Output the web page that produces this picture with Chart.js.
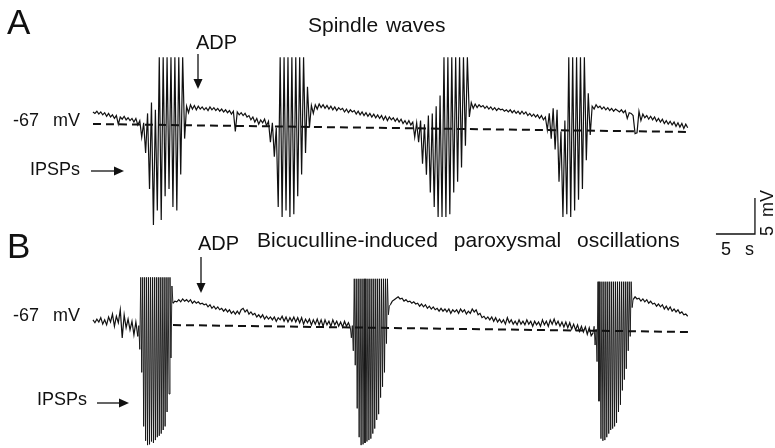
<!DOCTYPE html>
<html>
<head>
<meta charset="utf-8">
<script src="https://cdn.jsdelivr.net/npm/chart.js@4.4.1/dist/chart.umd.min.js"></script>
<style>
  html, body { margin: 0; padding: 0; background: #fff; }
  #wrap { position: relative; width: 775px; height: 448px; overflow: hidden;
          font-family: "Liberation Sans", Arial, sans-serif; color: #111; }
  #wrap canvas { position: absolute; left: 0; top: 0; }
  .lbl { position: absolute; white-space: pre; line-height: 1; }
</style>
</head>
<body>
<div id="wrap">
  <canvas id="trace" width="775" height="448"></canvas>
  <div class="lbl" style="left:7px;top:4px;font-size:35px">A</div>
  <div class="lbl" style="left:308px;top:14px;font-size:21px;word-spacing:2px">Spindle waves</div>
  <div class="lbl" style="left:196px;top:32px;font-size:20px">ADP</div>
  <div class="lbl" style="left:13px;top:111px;font-size:18px;word-spacing:9px">-67 mV</div>
  <div class="lbl" style="left:30px;top:160px;font-size:18px">IPSPs</div>
  <div class="lbl" style="left:7px;top:228px;font-size:35px">B</div>
  <div class="lbl" style="left:198px;top:233px;font-size:20px">ADP</div>
  <div class="lbl" style="left:257px;top:229px;font-size:21px;word-spacing:10px">Bicuculline-induced paroxysmal oscillations</div>
  <div class="lbl" style="left:13px;top:306px;font-size:18px;word-spacing:9px">-67 mV</div>
  <div class="lbl" style="left:37px;top:390px;font-size:18px">IPSPs</div>
  <div class="lbl" style="left:721px;top:240px;font-size:18px;word-spacing:9px">5 s</div>
  <div class="lbl" style="left:744px;top:204px;font-size:18px;word-spacing:4px;transform:rotate(-90deg);transform-origin:center">5 mV</div>
</div>
<script>
const DT = 0.25;
const DT_FAST = 0.125;

// A: spindle waves, membrane potential in mV
const restA0 = [-66.3,-66.5,-66.2,-66.6,-66.3,-66.7,-66.4,-66.9,-66.5,-67.0,-66.7,-67.2,-66.8,-68.0,-67.0,-67.3,-66.9,-67.4,-67.1,-67.5,
  -67.2,-67.7,-67.2,-68.1,-67.5];
const burstA1 = [-69.8,-67.8,-72.0,-66.5,-77.0,-65.0,-82.0,-66.0,-80.0,-58.7,-81.3,-58.7,-78.0,-58.7,-77.0,
  -58.7,-79.5,-58.7,-80.0,-58.7,-75.0,-58.7,-70.0];
const restA1 = [-65.5,-66.4,-65.3,-65.9,-65.4,-66.0,-65.5,-65.9,-65.6,-66.0,-65.7,-66.1,
  -65.6,-66.0,-65.7,-66.1,-65.8,-66.2,-65.9,-66.3,-66.0,-66.4,-66.1,-66.6,-66.2,-69.0,-66.3,-66.7,-66.4,-66.8,-66.5,-67.0,
  -66.8,-67.4,-67.0,-67.7,-67.2,-68.0,-67.4,-67.8,-67.3,-68.2,-67.6];
const burstA2 = [-70.5,-67.8,-72.5,-68.5,-79.5,-58.7,-80.9,-58.7,-80.0,
  -58.7,-80.9,-58.7,-80.5,-58.7,-78.0,-58.7,-75.0,-58.7,-72.0,-62.8,-68.5];
const restA2 = [-65.4,-66.5,-65.3,-65.9,-65.2,-65.7,-65.3,-65.8,
  -65.4,-65.9,-65.5,-66.0,-65.6,-66.1,-65.7,-66.0,-65.8,-66.3,-65.9,-66.4,-66.0,-66.3,-66.1,-66.6,-66.2,-66.7,-66.3,-66.8,
  -66.4,-66.9,-66.5,-67.0,-66.6,-67.1,-66.7,-67.2,-66.8,-67.4,-66.9,-67.5,-67.0,-67.4,-67.1,-67.6,-67.2,-67.7,-67.3,-67.9,
  -67.5,-68.0,-67.5,-68.1,-67.7];
const burstA3 = [-69.8,-67.8,-70.5,-67.5,-73.5,-68.0,-75.0,-66.8,-77.5,-66.5,-79.5,-65.5,-80.9,-64.0,-80.9,
  -58.7,-80.9,-58.7,-80.5,-58.7,-77.5,-58.7,-76.0,-58.7,-74.0,-58.7,-71.0,-58.7];
const restA3 = [-67.0,-65.0,-65.8,-65.2,-65.7,-65.3,-65.6,
  -65.4,-65.8,-65.5,-65.9,-65.6,-66.0,-65.7,-66.1,-65.8,-66.0,-65.9,-66.2,-66.0,-66.3,-66.0,-66.4,-66.1,-66.5,-66.2,-66.6,
  -66.2,-66.6,-66.3,-66.8,-66.5,-66.9,-66.6,-67.0,-66.7,-67.2,-66.8,-67.4,-67.0];
const burstA4 = [-68.8,-66.5,-70.0,-65.8,-71.5,-66.0,-76.0,
  -69.0,-80.9,-67.5,-80.5,-58.7,-80.9,-58.7,-80.0,-58.7,-78.5,-58.7,-77.0,-58.7,-73.0,-63.7,-69.5];
const restA4 = [-65.5,-65.9,-65.3,-65.7,
  -65.5,-65.9,-65.6,-66.0,-65.7,-66.1,-65.8,-66.2,-65.9,-66.1,-66.3,-66.0,-66.4,-66.1,-67.2,-66.4,-66.5,-66.8,-69.3,-69.2,
  -66.2,-67.5,-66.6,-67.1,-66.8,-67.3,-66.9,-67.4,-67.0,-67.6,-67.2,-67.7,-67.3,-67.9,-67.5,-68.0,-67.6,-68.1,-67.7,-68.3,
  -67.8,-68.4,-67.9,-68.6,-68.0,-68.5];

// B: bicuculline-induced paroxysmal oscillations, mV
const restB0 = [-66.7,-67.1,-66.6,-67.0,-66.4,-67.3,-66.7,-67.4,-66.3,-67.0,-65.9,-67.6,-66.2,-67.1,-65.3,-69.2,-66.0,-67.8,-66.6,-68.1,-66.9,-68.8,-67.0];
const burstB1 = [-69.0,-67.5,-70.8,-60.8,-74.0,-60.8,-81.5,-60.8,-83.5,-60.8,-84.1,-60.8,-84.0,-60.8,-83.6,-60.8,-83.8,-60.8,
  -83.4,-60.8,-83.0,-60.8,-82.8,-60.8,-82.5,-60.8,-82.0,-60.8,-81.5,-60.8,-79.5,-60.8,-77.0,-60.8,-72.0,-62.0];
const restB1 = [-64.4,-64.1,-64.2,-63.9,-64.2,-63.8,-64.1,-63.9,-64.2,-63.9,-64.4,-64.1,-64.4,-64.2,-64.5,-64.4,-64.6,-64.5,-64.9,-64.6,
  -65.1,-64.8,-65.2,-64.9,-65.3,-65.1,-65.5,-65.2,-65.6,-65.3,-65.8,-65.5,-65.9,-65.5,-65.9,-65.3,-65.1,-65.6,-65.3,-65.9,
  -65.6,-66.0,-65.8,-66.3,-66.0,-66.4,-66.0,-66.6,-66.2,-66.6,-66.3,-66.7,-66.3,-66.9,-66.4,-66.7,-66.2,-66.9,-66.3,-67.0,
  -66.4,-66.9,-66.3,-67.0,-66.4,-67.1,-66.4,-67.3,-66.6,-67.1,-66.6,-67.4,-66.7,-67.3,-66.6,-67.4,-66.7,-67.6,-66.7,-67.4,
  -66.9,-67.6,-66.7,-67.4,-66.9,-67.6,-67.0,-67.7,-66.9,-67.6,-67.1];
const burstB2 = [-67.8,-69.2,-67.5,-71.0,-61.0,-73.0,-61.0,-79.0,-61.0,-83.0,-61.0,-84.1,-61.0,-84.0,-61.0,-83.8,-61.0,-83.6,
  -61.0,-83.4,-61.0,-83.2,-61.0,-82.5,-61.0,-81.8,-61.0,-80.6,-61.0,-79.8,-61.0,-77.5,-61.0,-76.0,-61.0,-74.0,-61.0,-70.0,
  -61.0,-66.0,-64.8];
const restB2 = [-64.6,-64.1,-63.9,-63.7,-63.5,-63.8,-63.7,-64.1,-63.9,-64.2,-64.1,-64.4,-64.2,-64.5,-64.4,-64.8,-64.5,-64.9,-64.6,-65.1,
  -64.8,-65.2,-64.9,-65.3,-65.1,-65.5,-65.1,-65.5,-65.2,-65.6,-65.2,-65.8,-65.3,-65.6,-65.3,-65.8,-65.2,-65.6,-65.3,-65.9,
  -65.5,-65.8,-65.2,-65.6,-65.3,-66.0,-65.8,-66.4,-66.2,-66.6,-66.3,-66.7,-66.3,-66.9,-66.4,-67.0,-66.6,-67.1,-66.7,-67.3,
  -66.4,-67.1,-66.7,-67.3,-66.9,-67.4,-66.7,-67.3,-66.9,-67.4,-66.7,-67.3,-66.9,-67.6,-66.9,-67.4,-67.0,-67.6,-66.7,-67.4,
  -66.9,-67.6,-66.7,-67.3,-66.6,-67.4,-66.9,-67.6,-67.0,-67.7,-67.0,-67.8,-67.1,-68.0,-67.3,-68.1,-67.4,-68.3,-67.6,-68.4,
  -67.7,-68.7,-67.8,-68.9];
const burstB3 = [-68.5,-67.6,-70.2,-68.0,-72.5,-61.4,-78.0,-61.4,-83.2,-61.4,-83.5,-61.4,-83.4,-61.4,-83.0,-61.4,-82.5,-61.4,
  -82.0,-61.4,-81.8,-61.4,-81.5,-61.4,-81.0,-61.4,-79.5,-61.4,-78.5,-61.4,-76.5,-61.4,-75.0,-61.4,-73.5,-61.4,-71.0,-61.4,
  -69.0,-61.4,-65.0];
const restB3 = [-63.9,-63.5,-63.8,-63.7,-64.1,-63.8,-64.2,-63.9,-64.4,-64.1,-64.5,-64.4,-64.8,-64.5,-64.9,-64.6,-65.2,-64.8,
  -65.3,-64.9,-65.5,-65.2,-65.6,-65.3,-65.8,-65.6,-66.0,-65.9,-66.2];

// resting level drawn as dashed line: [start s, mV] -> [end s, mV]
const restLineA = [[0, -67.97], [76.28, -69.08]];
const restLineB = [[10.26, -67.42], [76.28, -68.39]];

// calibration: 5 s by 5 mV, corner placed at [s, mV] on the B scale
const scaleBar = { sec: 5, mv: 5, origin: [79.87, -54.78] };

function buildTrace(segments) {
  const pts = [];
  let t = 0;
  segments.forEach(([dt, values]) => {
    values.forEach(v => { pts.push({ x: t, y: v }); t += dt; });
  });
  return pts;
}

const traceA = buildTrace([
  [DT, restA0], [DT, burstA1], [DT, restA1], [DT, burstA2], [DT, restA2],
  [DT, burstA3], [DT, restA3], [DT, burstA4], [DT, restA4]
]);
const traceB = buildTrace([
  [DT, restB0], [DT_FAST, burstB1], [DT, restB1], [DT_FAST, burstB2], [DT, restB2],
  [DT_FAST, burstB3], [DT, restB3]
]);

const toPts = arr => arr.map(([x, y]) => ({ x, y }));
const [sx, sy] = scaleBar.origin;
const scaleBarPts = [
  { x: sx, y: sy }, { x: sx + scaleBar.sec, y: sy }, { x: sx + scaleBar.sec, y: sy + scaleBar.mv }
];

// arrows pointing at the ADP and the IPSPs (pixel positions of the annotations)
const arrows = [
  [198, 54, 198, 89], [201, 257, 201, 293],
  [91, 171, 124, 171], [97, 403, 129, 403]
];

const arrowPlugin = {
  id: 'arrows',
  afterDatasetsDraw(chart) {
    const ctx = chart.ctx;
    ctx.save();
    ctx.strokeStyle = '#111';
    ctx.fillStyle = '#111';
    ctx.lineWidth = 1.3;
    arrows.forEach(([x1, y1, x2, y2]) => {
      const ang = Math.atan2(y2 - y1, x2 - x1);
      const len = 10, half = 4.5;
      ctx.beginPath();
      ctx.moveTo(x1, y1);
      ctx.lineTo(x2 - Math.cos(ang) * len, y2 - Math.sin(ang) * len);
      ctx.stroke();
      ctx.beginPath();
      ctx.moveTo(x2, y2);
      ctx.lineTo(x2 - Math.cos(ang) * len - Math.sin(ang) * half, y2 - Math.sin(ang) * len + Math.cos(ang) * half);
      ctx.lineTo(x2 - Math.cos(ang) * len + Math.sin(ang) * half, y2 - Math.sin(ang) * len - Math.cos(ang) * half);
      ctx.closePath();
      ctx.fill();
    });
    ctx.restore();
  }
};

const lineStyle = { borderColor: '#111', pointRadius: 0, tension: 0, fill: false };

new Chart(document.getElementById('trace').getContext('2d'), {
  type: 'line',
  data: {
    datasets: [
      { ...lineStyle, data: toPts(restLineA), yAxisID: 'yA', borderWidth: 2, borderDash: [8, 5] },
      { ...lineStyle, data: traceA, yAxisID: 'yA', borderWidth: 1.2 },
      { ...lineStyle, data: toPts(restLineB), yAxisID: 'yB', borderWidth: 2, borderDash: [8, 5] },
      {
        ...lineStyle, data: traceB, yAxisID: 'yB', borderWidth: 1.2,
        // thinner strokes inside the finely sampled bursts so the comb stays readable
        segment: { borderWidth: c => (c.p1.parsed.x - c.p0.parsed.x < 0.2 ? 0.9 : 1.2) }
      },
      { ...lineStyle, data: scaleBarPts, yAxisID: 'yB', borderWidth: 1.3 }
    ]
  },
  options: {
    responsive: false,
    devicePixelRatio: 1,
    animation: false,
    layout: { padding: 0 },
    scales: {
      x: { type: 'linear', min: -11.92, max: 87.44, display: false },
      yA: { type: 'linear', min: -112.97, max: -50.75, display: false },
      yB: { type: 'linear', min: -84.5, max: -22.28, display: false }
    },
    plugins: {
      legend: { display: false },
      tooltip: { enabled: false }
    }
  },
  plugins: [arrowPlugin]
});
</script>
</body>
</html>
